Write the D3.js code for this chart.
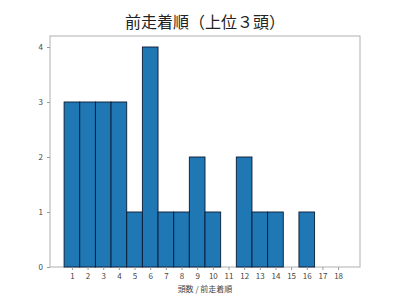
<!DOCTYPE html>
<html lang="ja">
<head>
<meta charset="UTF-8">
<title>前走着順</title>
<script src="https://cdn.jsdelivr.net/npm/d3@7"></script>
<style>
  body { margin: 0; background: #fff; }
  text { font-family: "Noto Sans CJK JP", "DejaVu Sans", sans-serif; }
</style>
</head>
<body>
<svg id="chart"></svg>
<script>
    // data
    var positions = [1, 2, 3, 4, 5, 6, 7, 8, 9, 10, 11, 12, 13, 14, 15, 16, 17, 18]
    var counts = [3, 3, 3, 3, 1, 4, 1, 1, 2, 1, 0, 2, 1, 1, 0, 1, 0, 0]
    var yTicks = [0, 1, 2, 3, 4]

    var width = 400, height = 300
    // plot box (window.top is reserved, so no "top" here)
    var boxL = 50, boxR = 360, boxT = 36, boxB = 267

    var svg = d3.select("#chart")
                .attr("width", width)
                .attr("height", height)

    // histogram bins run 0.5..18.5, matplotlib-like 5% margin
    const x = d3.scaleLinear()
                .domain([-0.4, 19.4])
                .range([boxL, boxR])

    const y = d3.scaleLinear()
                .domain([0, 4.2])
                .range([boxB, boxT])

    svg.append("rect")
        .attr("x", boxL)
        .attr("y", boxT)
        .attr("width", boxR - boxL)
        .attr("height", boxB - boxT)
        .attr("fill", "none")
        .attr("stroke", "#b0b0b0")
        .attr("stroke-width", 1)

    svg.selectAll("rect.bar")
        .data(positions)
        .join("rect")
        .attr("class", "bar")
        .attr("x", d => x(d - 0.5))
        .attr("width", d => x(d + 0.5) - x(d - 0.5))
        .attr("y", (d, i) => y(counts[i]))
        .attr("height", (d, i) => y(0) - y(counts[i]))
        .attr("fill", "#1f77b4")
        .attr("stroke", "#0a1a33")
        .attr("stroke-width", 0.9)

    var xAxis = svg.append("g")
                .attr("transform", "translate(0," + boxB + ")")
                .call(d3.axisBottom(x).tickValues(positions).tickSize(3).tickPadding(3))

    var yAxis = svg.append("g")
                .attr("transform", "translate(" + boxL + ",0)")
                .call(d3.axisLeft(y).tickValues(yTicks).tickFormat(d3.format("d")).tickSize(3).tickPadding(4))

    svg.selectAll(".domain").remove()
    svg.selectAll(".tick line").attr("stroke", "#999")
    svg.selectAll(".tick text")
        .attr("fill", "#444")
        .style("font-size", "8px")
        .style("font-family", "'Noto Sans CJK JP', sans-serif")

    svg.append("text")
        .attr("x", (boxL + boxR) / 2)
        .attr("y", 28)
        .attr("text-anchor", "middle")
        .attr("fill", "#222")
        .style("font-size", "16px")
        .text("前走着順（上位３頭）")

    svg.append("text")
        .attr("x", (boxL + boxR) / 2)
        .attr("y", 292)
        .attr("text-anchor", "middle")
        .attr("fill", "#444")
        .style("font-size", "8px")
        .text("頭数 / 前走着順")
</script>
</body>
</html>
